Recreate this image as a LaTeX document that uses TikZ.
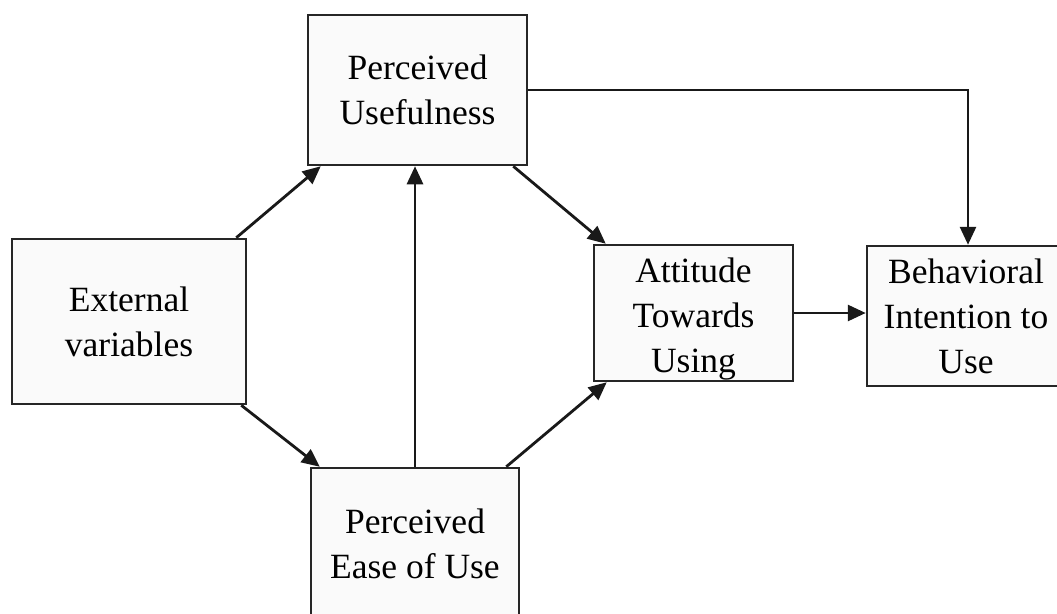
\documentclass[tikz,border=0pt]{standalone}
\usepackage{fontspec}
\setmainfont{Liberation Serif}
\usetikzlibrary{arrows.meta}
\begin{document}
\begin{tikzpicture}[x=1pt,y=-1pt,
  boxtext/.style={align=center,inner sep=0pt,font=\fontsize{35.5}{45}\selectfont},
  box/.style={draw=black!85,line width=2.5pt,fill=gray!4,boxtext},
  arr/.style={line width=2.8pt,draw=black!90,-{Triangle[length=18pt,width=16pt]}}]
\useasboundingbox (0,0) rectangle (1057,613);
\clip (0,0) rectangle (1057,613);
\node[box,minimum width=219pt,minimum height=150pt] (pu) at (417.5,90) {Perceived\\Usefulness};
\node[box,minimum width=234pt,minimum height=165pt] (ev) at (129,321.5) {External\\variables};
\node[box,minimum width=208pt,minimum height=152pt] (peou) at (415,544) {Perceived\\Ease of Use};
\node[box,minimum width=199pt,minimum height=136pt,
  label={[boxtext,yshift=-6pt]center:Attitude\\Towards\\Using}] (atu) at (693.5,313) {};
\node[box,minimum width=198pt,minimum height=140pt] (bi) at (966,316) {Behavioral\\Intention to\\Use};
\draw[arr] ([xshift=-11pt]ev.north east) -- ([xshift=14pt]pu.south west);
\draw[arr] ([xshift=-6pt]ev.south east) -- ([xshift=10pt]peou.north west);
\draw[arr] (peou.north) -- (peou.north |- pu.south);
\draw[arr] ([xshift=-15pt]pu.south east) -- ([xshift=13pt]atu.north west);
\draw[arr] ([xshift=-14pt]peou.north east) -- ([xshift=14pt]atu.south west);
\draw[arr] (atu.east) -- (bi.west |- atu.east);
\draw[arr] (pu.east) -| ([xshift=2pt]bi.north);
\end{tikzpicture}
\end{document}
